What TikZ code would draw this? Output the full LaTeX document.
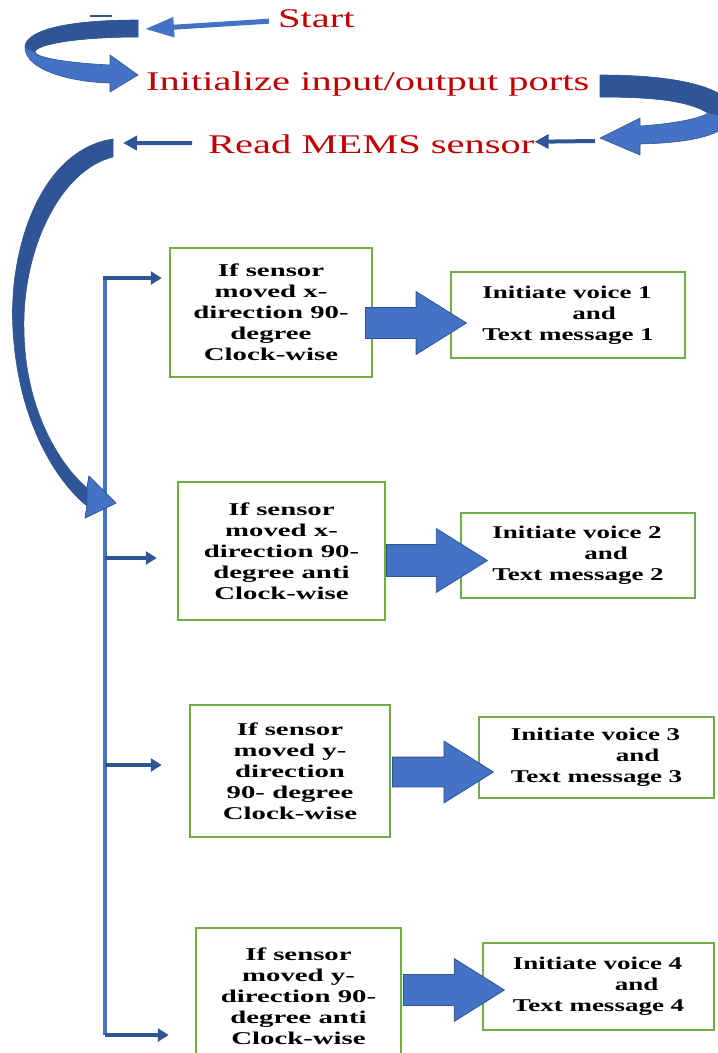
\documentclass[tikz,border=0pt]{standalone}
\usepackage{fontspec}
\setmainfont{Liberation Serif}
\newfontfamily\widefont[FakeStretch=1.5]{Liberation Serif}
\newfontfamily\condfont[FakeStretch=1.6]{Liberation Serif}
\usetikzlibrary{arrows.meta,shapes.arrows}
\definecolor{flowred}{HTML}{C00000}
\definecolor{flowgreen}{HTML}{70AD47}
\definecolor{lightblue}{HTML}{4472C4}
\definecolor{darkblue}{HTML}{2F5597}

\begin{document}
\begin{tikzpicture}[x=1pt,y=-1pt,
    redtext/.style={inner sep=0pt,text=flowred,font=\widefont\fontsize{27}{30}\selectfont},
    condbox/.style={draw=flowgreen,line width=2.5pt,fill=white,align=center,inner sep=0pt,font=\condfont\bfseries\fontsize{18}{21}\selectfont},
    actbox/.style={condbox,align=left,font=\widefont\bfseries\fontsize{18}{21}\selectfont},
    bigarrow/.style={single arrow,draw=darkblue,fill=lightblue,line width=0.8pt,minimum height=101pt,
        single arrow head extend=16pt,single arrow tip angle=64,inner sep=0pt,anchor=tail},
    thinarrow/.style={darkblue,line width=4pt,-{Triangle[length=14pt,width=14pt]}},
    busarrow/.style={darkblue,line width=4.5pt,-{Triangle[length=11pt,width=13pt]}},
    curvearrow/.style={draw=darkblue,line width=0.6pt,line join=round}]
    \useasboundingbox (0,0) rectangle (718,1053);

    \node at (278,27) [redtext,anchor=base west] (start) {Start};
    \node at (146,90) [redtext,anchor=base west] (init) {Initialize input/output ports};
    \node at (208,153) [redtext,anchor=base west] (read) {Read MEMS sensor};
    \coordinate (startin) at (145,29);
    \coordinate (rightin) at (595,141);
    \coordinate (leftout) at (123,143);

    \draw[darkblue,line width=1.5pt] (90,16) -- (112,16);
    \draw[lightblue,line width=5pt,shorten <=9pt,-{Triangle[length=29pt,width=19pt]}] (start) -- (startin);
    \draw[thinarrow] (rightin) -- (read);
    \draw[thinarrow,shorten <=16pt] (read) -- (leftout);

    % top left turn
    \fill[lightblue,curvearrow] (138,20) .. controls (60,20) and (24,32) .. (25,48) .. controls (26,70) and (70,82) .. (110,83)
        -- (110,92) -- (138,75) -- (110,55) -- (110,65) .. controls (70,63) and (36,58) .. (35,52) .. controls (36,44) and (80,37) .. (138,37) -- cycle;
    \fill[darkblue] (138,20) .. controls (60,20) and (24,32) .. (25,48) -- (35,52) .. controls (36,44) and (80,37) .. (138,37) -- cycle;
    % right turn
    \fill[lightblue,curvearrow] (600,75) .. controls (700,75) and (740,95) .. (732,118) .. controls (724,138) and (680,143) .. (640,144)
        -- (640,155) -- (600,138) -- (640,118) -- (640,126) .. controls (670,124) and (700,119) .. (708,113) .. controls (690,102) and (660,97) .. (600,97) -- cycle;
    \fill[darkblue] (600,75) .. controls (700,75) and (740,95) .. (732,118) -- (708,113) .. controls (690,102) and (660,97) .. (600,97) -- cycle;

    \node at (271,312.5) [condbox,minimum width=202pt,minimum height=129pt] (cond1) {If sensor\\moved x-\\direction 90-\\degree\\Clock-wise};
    \node at (281.5,551) [condbox,minimum width=207pt,minimum height=138pt] (cond2) {If sensor\\moved x-\\direction 90-\\degree anti\\Clock-wise};
    \node at (290,771) [condbox,minimum width=200pt,minimum height=132pt] (cond3) {If sensor\\moved y-\\direction\\90- degree\\Clock-wise};
    \node at (298.5,996.5) [condbox,minimum width=205pt,minimum height=137pt] (cond4) {If sensor\\moved y-\\direction 90-\\degree anti\\Clock-wise};

    \node at (568,315) [actbox,minimum width=234pt,minimum height=86pt] (act1) {Initiate voice 1\\\hspace*{90pt}and\\Text message 1};
    \node at (578,555.5) [actbox,minimum width=234pt,minimum height=85pt] (act2) {Initiate voice 2\\\hspace*{92pt}and\\Text message 2};
    \node at (596.5,757.5) [actbox,minimum width=235pt,minimum height=81pt] (act3) {Initiate voice 3\\\hspace*{105pt}and\\Text message 3};
    \node at (598.5,986.5) [actbox,minimum width=231pt,minimum height=87pt] (act4) {Initiate voice 4\\\hspace*{102pt}and\\Text message 4};

    \node at (365,323) [bigarrow] (go1) {\rule{0pt}{30pt}};
    \node at (386,560.5) [bigarrow] (go2) {\rule{0pt}{31pt}};
    \node at (392,772) [bigarrow] (go3) {\rule{0pt}{29pt}};
    \node at (403,990) [bigarrow] (go4) {\rule{0pt}{30pt}};

    \coordinate (b1) at (105,278);
    \coordinate (b2) at (105,558);
    \coordinate (b3) at (105,765);
    \coordinate (b4) at (105,1035);
    \draw[lightblue,line width=3.5pt] (b1) -- (b4);
    \draw[busarrow,shorten >=7pt] ([xshift=-2pt]b1) -- (cond1.west |- b1);
    \draw[busarrow,shorten >=20pt] (b2) -- (cond2.west |- b2);
    \draw[busarrow,shorten >=27pt] (b3) -- (cond3.west |- b3);
    \draw[busarrow,shorten >=26pt] (b4) -- (cond4.west |- b4);

    % big turn down to the bus
    \fill[darkblue,curvearrow] (113,139) .. controls (40,150) and (8,250) .. (13,330) .. controls (18,420) and (55,480) .. (87,506)
        -- (85,518) -- (116,503) -- (89,476) -- (87,488) .. controls (60,465) and (25,410) .. (24,330) .. controls (22,250) and (60,170) .. (113,157) -- cycle;
    \fill[lightblue,curvearrow] (87,506) -- (85,518) -- (116,503) -- (89,476) -- (87,488) -- cycle;
\end{tikzpicture}
\end{document}
